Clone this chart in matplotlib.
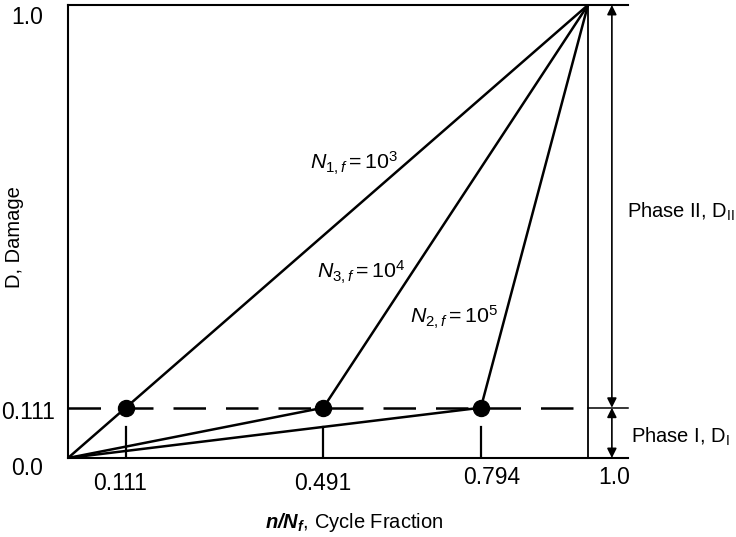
import matplotlib.pyplot as plt

plt.rcParams['font.family'] = ['Liberation Sans', 'DejaVu Sans']
plt.rcParams['mathtext.fontset'] = 'custom'
plt.rcParams['mathtext.rm'] = 'Liberation Sans'
plt.rcParams['mathtext.it'] = 'Liberation Sans:italic'
plt.rcParams['mathtext.bf'] = 'Liberation Sans:bold:italic'

# knee points of the bilinear damage curves
knee_x = [0.111, 0.491, 0.794]
knee_y = 0.111
curve_labels = [r'$N_{1,f} = 10^3$', r'$N_{3,f} = 10^4$', r'$N_{2,f} = 10^5$']
label_pos = [(0.55, 0.651), (0.565, 0.41), (0.742, 0.311)]
xtick_vals = [0.111, 0.491, 0.794]
fs = 14.5      # word labels
fn = 16.5      # numbers
fc = 15.4      # curve labels

fig = plt.figure(figsize=(7.36, 5.37), dpi=100)
ax = fig.add_axes([68 / 736, 79 / 537, 560 / 736, 453 / 537])
ax.set_xlim(0, 1.077)
ax.set_ylim(0, 1)
ax.spines['right'].set_visible(False)
for s in ['left', 'top', 'bottom']:
    ax.spines[s].set_linewidth(1.5)
ax.set_xticks([])
ax.set_yticks([])

# dashed phase boundary
ax.plot([0, 1], [knee_y, knee_y], color='black', lw=1.8,
        linestyle=(0, (13, 8)), zorder=1)
ax.plot([1, 1.077], [knee_y, knee_y], color='black', lw=1.1, clip_on=False)
ax.plot([1, 1], [0, 1], color='black', lw=1.3)

for kx in knee_x:
    ax.plot([0, kx, 1], [0, knee_y, 1], color='black', lw=1.8, zorder=2)
ax.plot(knee_x, [knee_y] * 3, 'o', color='black', ms=11.5, zorder=3)

for xv in xtick_vals:
    ax.plot([xv, xv], [0, 0.068], color='black', lw=1.6)

for lab, (lx, ly) in zip(curve_labels, label_pos):
    ax.text(lx, ly, lab, fontsize=fc, ha='center', va='center')

# phase arrows
ax_x = 1.046
ax.annotate('', xy=(ax_x, 1), xytext=(ax_x, knee_y),
            arrowprops=dict(arrowstyle='<|-|>', color='black', lw=1.2,
                            mutation_scale=14, shrinkA=0, shrinkB=0),
            annotation_clip=False)
ax.annotate('', xy=(ax_x, knee_y), xytext=(ax_x, 0),
            arrowprops=dict(arrowstyle='<|-|>', color='black', lw=1.2,
                            mutation_scale=14, shrinkA=0, shrinkB=0),
            annotation_clip=False)
ax.text(1.075, 0.543, r'Phase II, D$_{\mathrm{II}}$', fontsize=fs,
        ha='left', va='center', clip_on=False)
ax.text(1.083, 0.046, r'Phase I, D$_{\mathrm{I}}$', fontsize=fs,
        ha='left', va='center', clip_on=False)

# tick labels
ax.text(0.100, -0.057, '0.111', fontsize=fn, ha='center', va='center')
ax.text(0.490, -0.057, '0.491', fontsize=fn, ha='center', va='center')
ax.text(0.815, -0.042, '0.794', fontsize=fn, ha='center', va='center')
ax.text(1.050, -0.042, '1.0', fontsize=fn, ha='center', va='center')
ax.text(-0.048, 0.973, '1.0', fontsize=fn, ha='right', va='center')
ax.text(-0.025, 0.100, '0.111', fontsize=fn, ha='right', va='center')
ax.text(-0.048, -0.024, '0.0', fontsize=fn, ha='right', va='center')

ax.text(0.55, -0.143, r'$\mathbf{n/N_f}$, Cycle Fraction', fontsize=fs,
        ha='center', va='center')
fig.text(15 / 736, 1 - 237 / 537, 'D, Damage', fontsize=fs, rotation=90,
         ha='center', va='center')

fig.savefig('out.png', dpi=100)
